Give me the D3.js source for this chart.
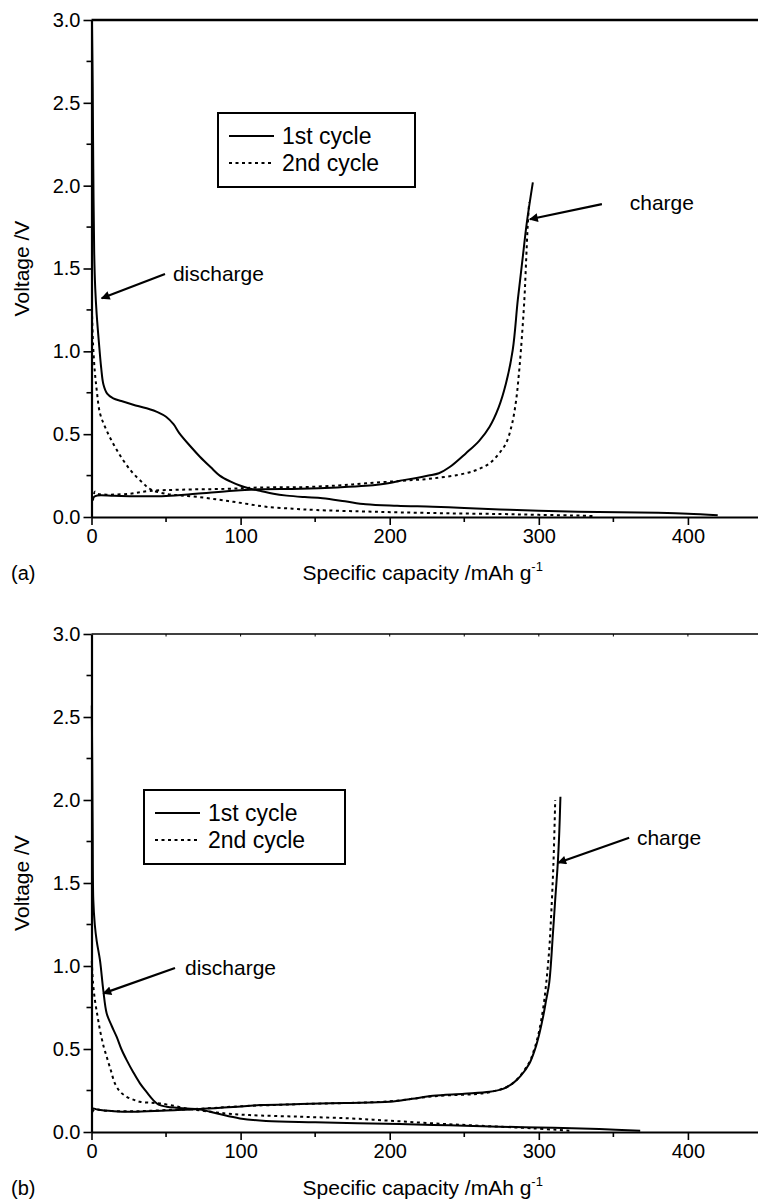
<!DOCTYPE html>
<html>
<head>
<meta charset="utf-8">
<script src="https://cdn.jsdelivr.net/npm/d3@7"></script>
<style>
  html, body { margin: 0; padding: 0; background: #fff; }
  svg text { font-family: "Liberation Sans", Arial, Helvetica, sans-serif; fill: #000; }
</style>
</head>
<body>
<div id="chart"></div>
<script>
// ---- data (x: specific capacity mAh/g, y: voltage V) ----
const aDischarge1 = [[0.3,3.0],[0.8,2.6],[1.2,2.1],[1.8,1.6],[2.5,1.38],[3.5,1.22],[5,1.05],[6.5,0.9],[8,0.8],[10.5,0.745],[14.6,0.716],[20,0.70],[28,0.678],[37,0.656],[45,0.63],[50,0.605],[55,0.56],[59,0.505],[66,0.43],[72.7,0.364],[80,0.30],[86,0.25],[93,0.215],[99.5,0.19],[106,0.172],[113,0.158],[122,0.14],[131,0.129],[143,0.12],[155,0.113],[170,0.095],[184,0.077],[205,0.068],[229,0.062],[250,0.055],[274,0.046],[300,0.038],[340,0.03],[380,0.025],[400,0.02],[420,0.01]];
const aCharge1 = [[0.5,0.10],[1.5,0.12],[4,0.13],[15,0.128],[30,0.125],[50,0.127],[70,0.14],[95,0.159],[113,0.167],[140,0.170],[165,0.178],[184,0.188],[200,0.205],[207,0.219],[218,0.236],[226,0.25],[233,0.264],[240,0.30],[251,0.384],[260,0.46],[267,0.545],[273,0.66],[278,0.807],[282.5,1.008],[285.9,1.31],[289,1.55],[292,1.78],[296,2.02]];
const aDischarge2 = [[0.3,1.25],[1,1.05],[2.2,0.88],[3.5,0.766],[5.7,0.626],[10,0.525],[17,0.404],[26,0.284],[34.7,0.203],[40,0.165],[50,0.14],[60,0.13],[72.7,0.12],[85,0.105],[95,0.092],[105,0.078],[117,0.062],[135,0.05],[151,0.042],[180,0.034],[207,0.028],[240,0.022],[274,0.018],[300,0.013],[329,0.008],[336,0.006]];
const aCharge2 = [[1,0.10],[2.3,0.153],[4,0.14],[10,0.135],[25,0.14],[39,0.157],[60,0.165],[90,0.17],[113,0.178],[140,0.18],[165,0.19],[184,0.203],[207,0.218],[229,0.233],[251,0.264],[260,0.29],[267,0.324],[273,0.38],[278,0.445],[282,0.56],[284.8,0.706],[286.5,0.85],[288,1.008],[290.3,1.31],[291.5,1.55],[292.5,1.75],[293.5,1.9]];

const bDischarge1 = [[0.2,2.57],[0.5,2.2],[0.8,1.8],[1.2,1.4],[2.2,1.25],[3.5,1.15],[5.7,1.034],[7.9,0.854],[10.2,0.714],[13.5,0.64],[16.9,0.573],[20,0.5],[23.6,0.433],[28,0.36],[32.5,0.293],[37,0.24],[41.4,0.192],[45,0.165],[50.4,0.152],[57,0.146],[63.8,0.142],[72.7,0.136],[85,0.11],[99.5,0.082],[117,0.066],[150,0.058],[206.6,0.048],[240,0.04],[273.6,0.032],[310,0.025],[340.6,0.018],[368,0.008]];
const bCharge1 = [[0.5,0.13],[1,0.142],[4,0.135],[15,0.125],[28,0.122],[50,0.13],[72.7,0.138],[95,0.15],[113,0.162],[140,0.168],[170,0.175],[200,0.182],[215,0.2],[229,0.218],[250,0.23],[267,0.242],[276,0.26],[282.5,0.293],[288,0.34],[293.7,0.413],[297.5,0.5],[300.4,0.594],[303,0.7],[304.9,0.794],[307,0.9],[309.5,1.2],[311,1.4],[312.7,1.616],[313.7,1.8],[314.5,2.02]];
const bDischarge2 = [[0.2,1.03],[1,0.9],[2.3,0.794],[4,0.7],[5.7,0.613],[8,0.52],[10.2,0.453],[13,0.37],[15.7,0.293],[19,0.245],[23.6,0.212],[28,0.195],[32.5,0.182],[40,0.176],[45.9,0.172],[55,0.158],[63.8,0.142],[72.7,0.13],[90,0.112],[106,0.102],[140,0.092],[173,0.082],[200,0.068],[229,0.052],[260,0.038],[296,0.022],[320.5,0.008]];
const bCharge2 = [[0.5,0.12],[2,0.135],[10,0.128],[30,0.125],[50,0.132],[72.7,0.14],[100,0.155],[140,0.168],[200,0.185],[229,0.215],[267,0.24],[282,0.29],[293,0.41],[297,0.5],[300,0.6],[303,0.75],[305,0.9],[307,1.1],[308,1.255],[309.8,1.616],[311,2.0]];

const xTicks = [0, 100, 200, 300, 400];
const yTicks = [0, 0.5, 1.0, 1.5, 2.0, 2.5, 3.0];
const legendLabels = ['1st cycle', '2nd cycle'];

// annotations in data units: [label, textX, textY, fromX, fromY, toX, toY]
const aNotes = [['discharge', 54.6, 1.467, 49.3, 1.467, 6.8, 1.32], ['charge', 361, 1.895, 342.3, 1.889, 294, 1.797]];
const bNotes = [['discharge', 62.7, 0.988, 56, 0.988, 7.9, 0.835], ['charge', 365.8, 1.771, 360.6, 1.773, 313, 1.622]];

// ---- layout ----
const W = 758, H = 1199;
const left = 91.5, right = 758;

const svg = d3.select('#chart').append('svg')
    .attr('width', W)
    .attr('height', H);

const defs = svg.append('defs');
defs.append('marker')
    .attr('id', 'arrow')
    .attr('viewBox', '0 0 10 10')
    .attr('refX', 9).attr('refY', 5)
    .attr('markerWidth', 4.5).attr('markerHeight', 4)
    .attr('markerUnits', 'strokeWidth')
    .attr('orient', 'auto')
    .append('path')
    .attr('d', 'M0,0 L10,5 L0,10 z')
    .attr('fill', '#000');

function drawPanel(p) {
    const xs = d3.scaleLinear().domain([0, 447]).range([left, right]);
    const ys = d3.scaleLinear().domain([0, 3]).range([p.bottom, p.top]);
    const g = svg.append('g');

    // top frame line
    g.append('line')
        .attr('x1', left).attr('x2', right)
        .attr('y1', p.top).attr('y2', p.top)
        .attr('stroke', '#000').attr('stroke-width', p.topWidth);
    if (p.topTicks) {
        g.selectAll('.tt').data(d3.range(50, 447, 50)).enter().append('line')
            .attr('x1', d => xs(d)).attr('x2', d => xs(d))
            .attr('y1', p.top).attr('y2', p.top + 2.5)
            .attr('stroke', '#000').attr('stroke-width', 1);
    }

    // curves
    const line = d3.line()
        .x(d => xs(d[0]))
        .y(d => ys(d[1]))
        .curve(d3.curveCatmullRom.alpha(0.5));

    p.solid.forEach(s => {
        g.append('path').datum(s)
            .attr('d', line)
            .attr('fill', 'none').attr('stroke', '#000')
            .attr('stroke-width', 2);
    });
    p.dotted.forEach(s => {
        g.append('path').datum(s)
            .attr('d', line)
            .attr('fill', 'none').attr('stroke', '#000')
            .attr('stroke-width', 2)
            .attr('stroke-dasharray', '3,3.5');
    });

    // x axis
    const xAxis = d3.axisBottom(xs).tickValues(xTicks).tickSize(8).tickSizeOuter(0).tickPadding(4).tickFormat(d3.format('d'));
    const gx = g.append('g').attr('transform', 'translate(0,' + p.bottom + ')').call(xAxis);
    gx.select('.domain').attr('stroke-width', 2.2);
    gx.selectAll('.tick line').attr('stroke-width', 1.6);
    gx.selectAll('.tick text').style('font-size', '20px').attr('font-family', null);
    gx.selectAll('.minor').data(d3.range(50, 447, 100)).enter().append('line')
        .attr('x1', d => xs(d)).attr('x2', d => xs(d))
        .attr('y1', 0).attr('y2', 5)
        .attr('stroke', '#000').attr('stroke-width', 1.6);

    // y axis
    const yAxis = d3.axisLeft(ys).tickValues(yTicks).tickSize(8).tickSizeOuter(0).tickPadding(3).tickFormat(d3.format('.1f'));
    const gy = g.append('g').attr('transform', 'translate(' + left + ',0)').call(yAxis);
    gy.select('.domain').attr('stroke-width', 2.2);
    gy.selectAll('.tick line').attr('stroke-width', 1.6);
    gy.selectAll('.tick text').style('font-size', '20px').attr('font-family', null);
    gy.selectAll('.minor').data(d3.range(0.25, 3, 0.5)).enter().append('line')
        .attr('x1', -5).attr('x2', 0)
        .attr('y1', d => ys(d)).attr('y2', d => ys(d))
        .attr('stroke', '#000').attr('stroke-width', 1.6);

    // axis titles
    const xt = g.append('text')
        .attr('x', (left + right) / 2 - 2)
        .attr('y', p.bottom + 63)
        .attr('text-anchor', 'middle')
        .style('font-size', '21px')
        .text('Specific capacity /mAh g');
    xt.append('tspan').attr('dy', -9).style('font-size', '13px').text('-1');

    g.append('text')
        .attr('transform', 'translate(29,' + ((p.top + p.bottom) / 2) + ') rotate(-90)')
        .attr('text-anchor', 'middle')
        .style('font-size', '21px')
        .text('Voltage /V');

    g.append('text')
        .attr('x', 11).attr('y', p.bottom + 63)
        .style('font-size', '20px')
        .text(p.label);

    // legend
    const lg = g.append('g').attr('transform', 'translate(' + p.legend[0] + ',' + p.legend[1] + ')');
    lg.append('rect')
        .attr('width', p.legend[2]).attr('height', 74)
        .attr('fill', '#fff').attr('stroke', '#000').attr('stroke-width', 2);
    lg.selectAll('.item').data(legendLabels).enter().append('g')
        .attr('transform', (d, i) => 'translate(0,' + (23 + i * 27) + ')')
        .each(function(d, i) {
            const it = d3.select(this);
            it.append('line')
                .attr('x1', 11).attr('x2', 56)
                .attr('stroke', '#000').attr('stroke-width', 2)
                .attr('stroke-dasharray', i === 1 ? '3,3.5' : null);
            it.append('text')
                .attr('x', 64).attr('dy', '0.35em')
                .style('font-size', '23px')
                .text(d);
        });

    // annotations
    p.notes.forEach(n => {
        g.append('line')
            .attr('x1', xs(n[3])).attr('y1', ys(n[4]))
            .attr('x2', xs(n[5])).attr('y2', ys(n[6]))
            .attr('stroke', '#000').attr('stroke-width', 2.2)
            .attr('marker-end', 'url(#arrow)');
        g.append('text')
            .attr('x', xs(n[1])).attr('y', ys(n[2]))
            .attr('dy', '0.35em')
            .style('font-size', '21px')
            .text(n[0]);
    });
}

drawPanel({
    top: 20, bottom: 517, topWidth: 2.4, topTicks: false,
    solid: [aDischarge1, aCharge1], dotted: [aDischarge2, aCharge2],
    legend: [218, 113, 197], notes: aNotes, label: '(a)'
});
drawPanel({
    top: 634, bottom: 1132, topWidth: 1.3, topTicks: true,
    solid: [bDischarge1, bCharge1], dotted: [bDischarge2, bCharge2],
    legend: [144, 790, 201], notes: bNotes, label: '(b)'
});
</script>
</body>
</html>
